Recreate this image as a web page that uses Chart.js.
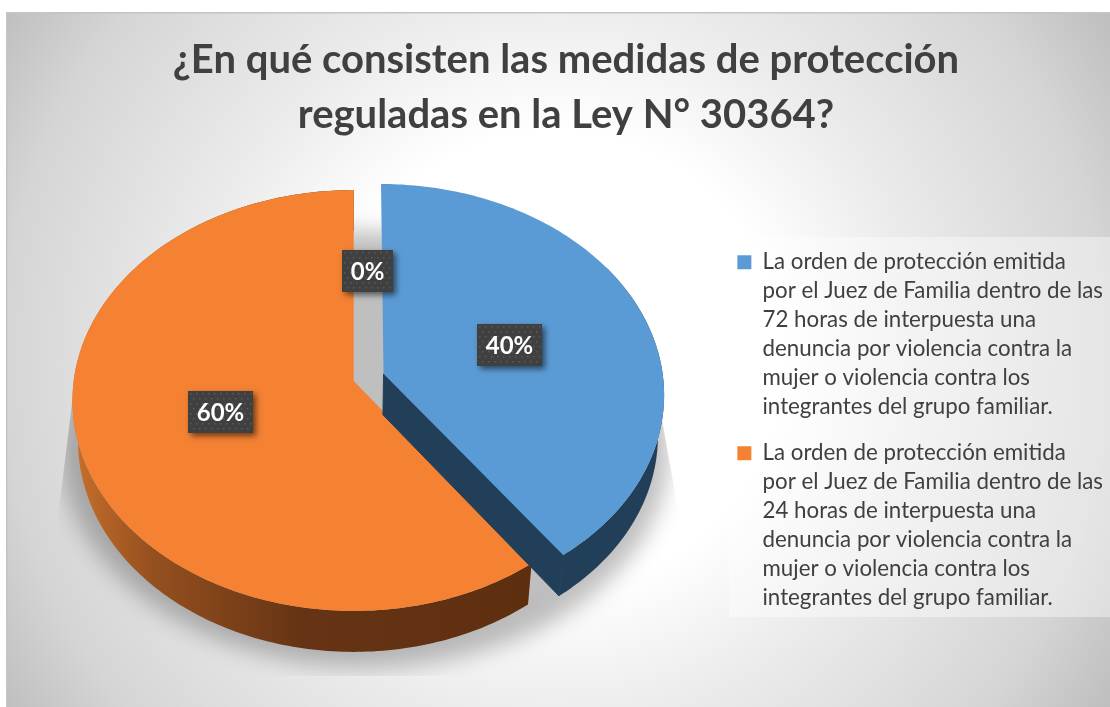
<!DOCTYPE html>
<html><head><meta charset="utf-8">
<style>html,body{margin:0;padding:0;background:#fff}canvas{display:block}</style>
<script src="https://cdn.jsdelivr.net/npm/chart.js@4"></script>
</head><body><canvas id="c" width="1110" height="707"></canvas>
<script>
const titleLines = ['¿En qué consisten las medidas de protección', 'reguladas en la Ley N° 30364?'];
const categories = [
  ['La orden de protección emitida','por el Juez de Familia dentro de las','72 horas de interpuesta una','denuncia por violencia contra la','mujer o violencia contra los','integrantes del grupo familiar.'],
  ['La orden de protección emitida','por el Juez de Familia dentro de las','24 horas de interpuesta una','denuncia por violencia contra la','mujer o violencia contra los','integrantes del grupo familiar.'],
  ['Otra']
];
const values = [40, 60, 0];
const colors = ['#5B9BD5', '#F58233', '#A5A5A5'];
const explode = [126, 0, 0];

const FONT = 'Lato';
const PERSP = -0.0926, VSCALE = 0.619, HSCALE = 1.0, DEPTH = 41, DEPTHX = 0.98;
const labelNudge = [[-4, 3], [2, -2], [14, -10]];

function project(el, u, v, lower) {
  const d = 1 + PERSP * v;
  let x = el.x + el.outerRadius * HSCALE * u / d;
  let y = (VSCALE * el.outerRadius * v + el.y) / d;
  if (lower) { x = el.x + (x - el.x) * DEPTHX; y += DEPTH; }
  return [x, y];
}
function slicePts(el, lower, shiftU, shiftV, withApex) {
  const pts = [];
  const n = Math.max(2, Math.ceil((el.endAngle - el.startAngle) * 60));
  if (withApex) pts.push(project(el, shiftU, shiftV, lower));
  for (let i = 0; i <= n; i++) {
    const t = el.startAngle + (el.endAngle - el.startAngle) * i / n;
    pts.push(project(el, shiftU + Math.cos(t), shiftV + Math.sin(t), lower));
  }
  return pts;
}
function tracePoly(ctx, pts) {
  ctx.beginPath();
  pts.forEach((p, i) => i ? ctx.lineTo(p[0], p[1]) : ctx.moveTo(p[0], p[1]));
  ctx.closePath();
}
function shiftOf(el) {
  const off = (el.options.offset || 0) / 4 / el.outerRadius;
  const mid = (el.startAngle + el.endAngle) / 2;
  return [off * Math.cos(mid), off * Math.sin(mid)];
}

const piePlugin = {
  id: 'pie3d',
  afterLayout(chart) {
    chart.titleBlock.left += 16; chart.titleBlock.right += 16;
    chart.legend.top += 124; chart.legend.bottom += 124;
    chart.legend.left += 13; chart.legend.right += 13;
  },
  beforeDraw(chart) {
    const ctx = chart.ctx;
    ctx.save();
    ctx.fillStyle = '#fff'; ctx.fillRect(0, 0, 1110, 707);
    const g = ctx.createRadialGradient(555, 360, 0, 555, 360, 650);
    g.addColorStop(0, '#ffffff'); g.addColorStop(0.35, '#ffffff');
    g.addColorStop(0.55, '#ececec'); g.addColorStop(0.85, '#d5d5d5'); g.addColorStop(1, '#bfbfbf');
    ctx.fillStyle = g; ctx.fillRect(6, 12, 1104, 695);
    ctx.fillStyle = '#c4c4c4'; ctx.fillRect(6, 12, 1104, 1.5); ctx.fillRect(6, 12, 1.5, 695);
    ctx.fillStyle = 'rgba(255,255,255,0.4)'; ctx.fillRect(729, 237, 381, 380);
    ctx.restore();
  },
  beforeDatasetsDraw(chart) {
    const ctx = chart.ctx, arcs = chart.getDatasetMeta(0).data;
    const blue = arcs[0], orange = arcs[1];
    ctx.save();
    // soft shadow under the pie
    ctx.save();
    tracePoly(ctx, [[73,395],[354,205],[610,205],[662,420],[680,520],[680,676],[57,676],[57,525]]);
    ctx.clip();
    ctx.filter = 'blur(11px)';
    ctx.fillStyle = 'rgba(0,0,0,0.25)';
    const ring = [];
    for (let i = 0; i < 180; i++) {
      const t = i / 180 * Math.PI * 2;
      ring.push(project(orange, 0.04 + 1.10 * Math.cos(t), 0.03 + 1.03 * Math.sin(t), true));
    }
    tracePoly(ctx, ring); ctx.fill();
    ctx.restore();

    // orange side wall
    const oTop = slicePts(orange, false, 0, 0, false);
    const oLow = slicePts(orange, true, 0, 0, false).reverse();
    const g = ctx.createLinearGradient(73, 0, 527, 0);
    g.addColorStop(0, '#C8702C'); g.addColorStop(0.17, '#96501F');
    g.addColorStop(0.5, '#663414'); g.addColorStop(1, '#5E2F0F');
    ctx.fillStyle = g; tracePoly(ctx, oTop.concat(oLow)); ctx.fill();
    ctx.fillStyle = orange.options.backgroundColor;
    tracePoly(ctx, slicePts(orange, false, 0, 0, true)); ctx.fill();

    // blue wedge, pulled out along its own middle
    const [su, sv] = shiftOf(blue);
    const bTop = slicePts(blue, false, su, sv, false);
    const bLow = slicePts(blue, true, su, sv, false);
    const from = Math.floor(bTop.length * 0.4);
    ctx.fillStyle = '#223F59'; ctx.strokeStyle = '#223F59'; ctx.lineWidth = 1;
    tracePoly(ctx, bTop.slice(from).concat(bLow.slice(from).reverse())); ctx.fill();
    tracePoly(ctx, [project(blue, su, sv, false), bTop[bTop.length - 1], bLow[bLow.length - 1], project(blue, su, sv, true)]); ctx.fill(); ctx.stroke();
    ctx.fillStyle = blue.options.backgroundColor;
    tracePoly(ctx, slicePts(blue, false, su, sv, true)); ctx.fill();

    // percentage labels
    const total = values.reduce((a, b) => a + b, 0);
    ctx.font = 'bold 24px ' + FONT;
    ctx.textAlign = 'center'; ctx.textBaseline = 'middle';
    arcs.forEach((el, i) => {
      const [u0, v0] = shiftOf(el);
      const mid = (el.startAngle + el.endAngle) / 2;
      const p = project(el, u0 + 0.5 * Math.cos(mid), v0 + 0.5 * Math.sin(mid), false);
      const x = p[0] + labelNudge[i][0], y = p[1] + labelNudge[i][1];
      const text = Math.round(values[i] / total * 100) + '%';
      const w = Math.round(ctx.measureText(text).width) + 17, h = 42;
      const bx = Math.round(x - w / 2), by = Math.round(y - h / 2);
      ctx.save();
      ctx.shadowColor = 'rgba(0,0,0,0.55)'; ctx.shadowBlur = 6; ctx.shadowOffsetX = 3; ctx.shadowOffsetY = 3;
      ctx.fillStyle = '#404040'; ctx.fillRect(bx, by, w, h);
      ctx.restore();
      ctx.fillStyle = '#5a5a5a';
      for (let yy = 2, r = 0; yy < h - 1; yy += 5, r++) {
        for (let xx = (r % 2 ? 5 : 2); xx < w - 1; xx += 6) ctx.fillRect(bx + xx, by + yy, 1.5, 1.5);
      }
      ctx.fillStyle = '#fff';
      ctx.fillText(text, bx + w / 2, by + h / 2 + 1);
    });
    ctx.restore();
    return false;
  }
};

new Chart(document.getElementById('c'), {
  type: 'pie',
  data: {
    labels: categories,
    datasets: [{ data: values, backgroundColor: colors, borderWidth: 0, offset: explode }]
  },
  options: {
    responsive: false,
    animation: false,
    radius: 280,
    layout: { padding: { left: 0, right: 10, top: 0, bottom: 88 } },
    plugins: {
      tooltip: { enabled: false },
      title: {
        display: true,
        text: titleLines,
        color: '#404040',
        font: { family: FONT, weight: 'bold', size: 40, lineHeight: 1.375 },
        padding: { top: 33, bottom: 0 }
      },
      legend: {
        position: 'right',
        labels: {
          filter: (item) => values[item.index] > 0,
          boxWidth: 14, boxHeight: 14, padding: 17,
          color: '#404040',
          font: { family: FONT, size: 22.3, lineHeight: 1.3 }
        }
      }
    }
  },
  plugins: [piePlugin]
});
</script></body></html>
